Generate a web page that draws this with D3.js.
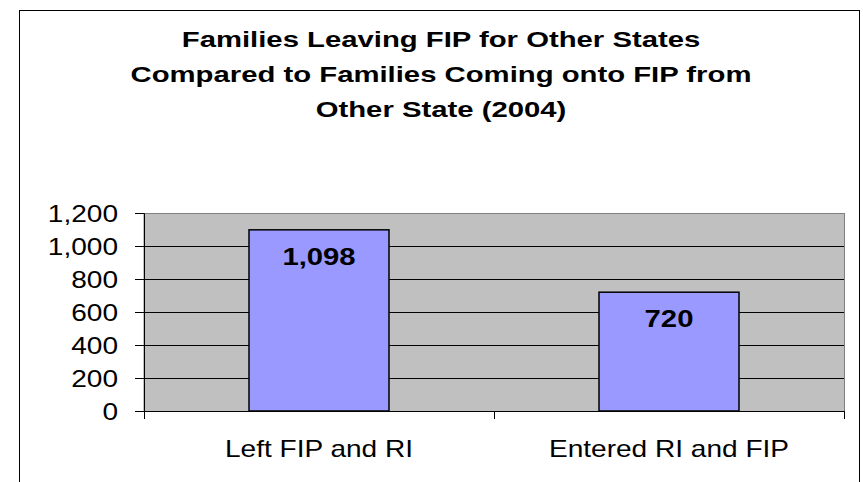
<!DOCTYPE html>
<html>
<head>
<meta charset="utf-8">
<script src="https://cdn.jsdelivr.net/npm/d3@7"></script>
<style>
  body { margin: 0; background: #fff; }
  text { font-family: "Liberation Sans", Arial, sans-serif; fill: #000; }
</style>
</head>
<body>
<div id="chart"></div>
<script>
var width = 863, height = 482;

// data
var categories = ["Left FIP and RI", "Entered RI and FIP"];
var values = [1098, 720];
var valueLabels = ["1,098", "720"];
var yTicks = [0, 200, 400, 600, 800, 1000, 1200];
var titleLines = ["Families Leaving FIP for Other States",
                  "Compared to Families Coming onto FIP from",
                  "Other State (2004)"];

var plot = {left: 144, right: 844, top: 213, bottom: 411};

var svg = d3.select("#chart").append("svg").attr("width", width).attr("height", height);

// outer chart border
svg.append("rect").attr("x", 19.5).attr("y", 10.5).attr("width", 840).attr("height", 490)
   .attr("fill", "#fff").attr("stroke", "#000").attr("stroke-width", 1);

// title, text in the source is stretched sideways so scale it
var titleSx = 1.35;
svg.append("g").selectAll("text").data(titleLines).enter().append("text")
   .attr("transform", function(d, i) { return "translate(441," + (47 + i * 35) + ") scale(" + titleSx + ",1)"; })
   .attr("text-anchor", "middle")
   .style("font-size", "21.7px").style("font-weight", "bold")
   .text(function(d) { return d; });

var x = d3.scaleBand().domain(categories).range([plot.left, plot.right])
          .paddingInner(0.6).paddingOuter(0.3);
var y = d3.scaleLinear().domain([0, 1200]).range([plot.bottom, plot.top]);

// plot area
svg.append("rect").attr("x", plot.left).attr("y", plot.top + 0.5)
   .attr("width", plot.right - plot.left + 0.5).attr("height", plot.bottom - plot.top)
   .attr("fill", "#c0c0c0").attr("stroke", "#808080").attr("stroke-width", 1);

// gridlines
svg.append("g").selectAll("line").data(yTicks.filter(function(d) { return d > 0 && d < 1200; })).enter().append("line")
   .attr("x1", plot.left).attr("x2", plot.right)
   .attr("y1", function(d) { return Math.round(y(d)) + 0.5; })
   .attr("y2", function(d) { return Math.round(y(d)) + 0.5; })
   .attr("stroke", "#000").attr("stroke-width", 1);

// bars
svg.append("g").selectAll("rect").data(values).enter().append("rect")
   .attr("x", function(d, i) { return x(categories[i]); })
   .attr("y", function(d) { return y(d); })
   .attr("width", x.bandwidth())
   .attr("height", function(d) { return y(0) - y(d); })
   .attr("fill", "#9999ff").attr("stroke", "#000").attr("stroke-width", 1.5);

// value labels inside bars
var sx = 1.22;
svg.append("g").selectAll("text").data(values).enter().append("text")
   .attr("transform", function(d, i) {
     return "translate(" + (x(categories[i]) + x.bandwidth() / 2) + "," + (y(d) + 35) + ") scale(" + sx + ",1)";
   })
   .attr("text-anchor", "middle")
   .style("font-size", "24px").style("font-weight", "bold")
   .text(function(d, i) { return valueLabels[i]; });

// y axis
var yAxis = d3.axisLeft(y).tickValues(yTicks).tickSize(9).tickPadding(0).tickFormat(d3.format(","));
var gy = svg.append("g").attr("transform", "translate(" + plot.left + ",0)").call(yAxis);
gy.select(".domain").attr("stroke", "#000");
gy.selectAll(".tick line").attr("stroke", "#000");
gy.selectAll(".tick text")
  .attr("x", null).attr("dy", null)
  .attr("transform", "translate(-26,8) scale(" + sx + ",1)")
  .attr("text-anchor", "end")
  .style("font-size", "23px").style("font-family", "'Liberation Sans', Arial, sans-serif").attr("fill", "#000");

// x axis, ticks on category boundaries
var gx = svg.append("g");
gx.append("line").attr("x1", plot.left).attr("x2", plot.right)
  .attr("y1", plot.bottom + 0.5).attr("y2", plot.bottom + 0.5).attr("stroke", "#000");
var bounds = [plot.left, (plot.left + plot.right) / 2, plot.right];
gx.selectAll(".tk").data(bounds).enter().append("line").attr("class", "tk")
  .attr("x1", function(d) { return Math.round(d) + 0.5; }).attr("x2", function(d) { return Math.round(d) + 0.5; })
  .attr("y1", plot.bottom).attr("y2", plot.bottom + 8).attr("stroke", "#000");
gx.selectAll("text").data(categories).enter().append("text")
  .attr("transform", function(d) { return "translate(" + (x(d) + x.bandwidth() / 2) + ",457) scale(" + sx + ",1)"; })
  .attr("text-anchor", "middle")
  .style("font-size", "23px")
  .text(function(d) { return d; });
</script>
</body>
</html>
